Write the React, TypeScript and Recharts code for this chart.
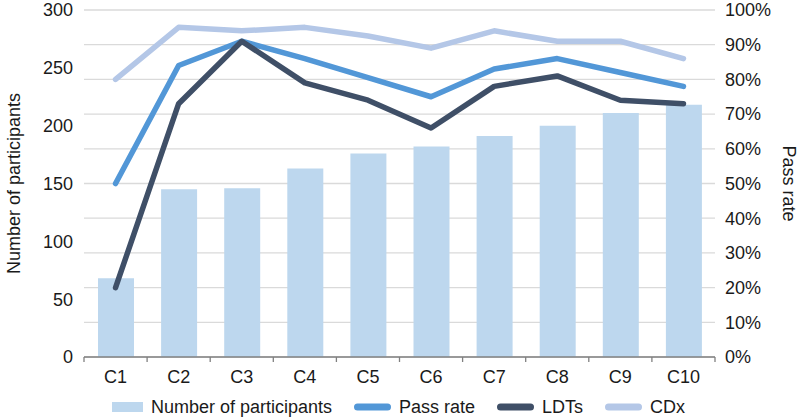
import React from 'react';
import {
  ComposedChart,
  Bar,
  Line,
  XAxis,
  YAxis,
  CartesianGrid,
  Legend,
  Label,
} from 'recharts';

const categories = ['C1', 'C2', 'C3', 'C4', 'C5', 'C6', 'C7', 'C8', 'C9', 'C10'];
const participants = [68, 145, 146, 163, 176, 182, 191, 200, 211, 218];
const passRate = [50, 84, 91, 86, 80.5, 75, 83, 86, 82, 78];
const ldts = [20, 73, 91, 79, 74, 66, 78, 81, 74, 73];
const cdx = [80, 95, 94, 95, 92.5, 89, 94, 91, 91, 86];

const leftTicks = [0, 50, 100, 150, 200, 250, 300];
const rightTicks = [0, 10, 20, 30, 40, 50, 60, 70, 80, 90, 100];

const data = categories.map((c, i) => ({
  cat: c,
  participants: participants[i],
  pass: passRate[i],
  ldts: ldts[i],
  cdx: cdx[i],
}));

const COLORS = {
  bar: '#BDD7EE',
  pass: '#5297D7',
  ldts: '#3F4F67',
  cdx: '#B4C7E7',
  text: '#1a1a1a',
  grid: '#DADADA',
  axis: '#808080',
};

const FONT = '"Liberation Sans", Arial, Helvetica, sans-serif';
const WIDTH = 800;
const HEIGHT = 417;
const LEFT_W = 84;
const RIGHT_W = 85;
const HALF_BAND = (WIDTH - LEFT_W - RIGHT_W) / categories.length / 2;

const XTick = (props: any) => {
  const { x, y, payload, index } = props;
  const axisY = y - 13;
  return (
    <g>
      <line x1={x - HALF_BAND} x2={x - HALF_BAND} y1={axisY} y2={axisY + 5} stroke={COLORS.axis} strokeWidth={1.3} />
      {index === categories.length - 1 && (
        <line x1={x + HALF_BAND} x2={x + HALF_BAND} y1={axisY} y2={axisY + 5} stroke={COLORS.axis} strokeWidth={1.3} />
      )}
      <text x={x} y={y} dy="0.71em" textAnchor="middle" fontSize={18} fill={COLORS.text} fontFamily={FONT}>
        {payload.value}
      </text>
    </g>
  );
};

const legendItems = [
  { label: 'Number of participants', color: COLORS.bar, type: 'rect' },
  { label: 'Pass rate', color: COLORS.pass, type: 'line' },
  { label: 'LDTs', color: COLORS.ldts, type: 'line' },
  { label: 'CDx', color: COLORS.cdx, type: 'line' },
];

const LegendContent = () => (
  <div
    style={{
      display: 'flex',
      justifyContent: 'center',
      alignItems: 'center',
      height: 20,
      fontFamily: FONT,
      fontSize: 18,
      color: COLORS.text,
      paddingRight: 3,
    }}
  >
    {legendItems.map((it, i) => (
      <div key={it.label} style={{ display: 'flex', alignItems: 'center', marginRight: i < legendItems.length - 1 ? 22 : 0 }}>
        <svg width={it.type === 'rect' ? 31 : 37} height={12} style={{ marginRight: 8, display: 'block' }}>
          {it.type === 'rect' ? (
            <rect x={0} y={1} width={31} height={10} fill={it.color} />
          ) : (
            <line x1={3.5} x2={33.5} y1={6} y2={6} stroke={it.color} strokeWidth={7} strokeLinecap="round" />
          )}
        </svg>
        <span style={{ lineHeight: '20px' }}>{it.label}</span>
      </div>
    ))}
  </div>
);

export default function App() {
  return (
    <div style={{ position: 'absolute', left: 0, top: 0, width: WIDTH, height: HEIGHT, background: '#fff' }}>
      <ComposedChart
        width={WIDTH}
        height={HEIGHT}
        data={data}
        margin={{ top: 10, right: 0, bottom: 0, left: 0 }}
        style={{ fontFamily: FONT }}
      >
        <CartesianGrid yAxisId="right" vertical={false} stroke={COLORS.grid} strokeWidth={1.3} />
        <XAxis
          dataKey="cat"
          height={40}
          axisLine={{ stroke: COLORS.axis, strokeWidth: 1.3 }}
          tickLine={false}
          tickSize={6}
          tickMargin={7}
          tick={<XTick />}
          interval={0}
        />
        <YAxis
          yAxisId="left"
          width={LEFT_W}
          domain={[0, 300]}
          ticks={leftTicks}
          axisLine={false}
          tickLine={false}
          tickSize={6}
          tickMargin={5}
          tick={{ fontSize: 18, fill: COLORS.text, fontFamily: FONT }}
          interval={0}
        >
          <Label
            content={(p: any) => {
              const vb = p.viewBox;
              const cx = vb.x + 14;
              const cy = vb.y + vb.height / 2;
              return (
                <text
                  x={cx}
                  y={cy}
                  transform={`rotate(-90 ${cx} ${cy})`}
                  textAnchor="middle"
                  dominantBaseline="central"
                  fontSize={18}
                  fill={COLORS.text}
                  fontFamily={FONT}
                >
                  Number of participants
                </text>
              );
            }}
          />
        </YAxis>
        <YAxis
          yAxisId="right"
          orientation="right"
          width={RIGHT_W}
          domain={[0, 100]}
          ticks={rightTicks}
          tickFormatter={(v: number) => `${v}%`}
          axisLine={false}
          tickLine={false}
          tickSize={6}
          tickMargin={4}
          tick={{ fontSize: 18, fill: COLORS.text, fontFamily: FONT }}
          interval={0}
        >
          <Label
            content={(p: any) => {
              const vb = p.viewBox;
              const cx = vb.x + 74;
              const cy = vb.y + vb.height / 2;
              return (
                <text
                  x={cx}
                  y={cy}
                  transform={`rotate(90 ${cx} ${cy})`}
                  textAnchor="middle"
                  dominantBaseline="central"
                  fontSize={18}
                  fill={COLORS.text}
                  fontFamily={FONT}
                >
                  Pass rate
                </text>
              );
            }}
          />
        </YAxis>
        <Legend verticalAlign="bottom" height={20} content={<LegendContent />} wrapperStyle={{ left: 0, width: WIDTH }} />
        <Bar yAxisId="left" dataKey="participants" name="Number of participants" fill={COLORS.bar} barSize={36} isAnimationActive={false} />
        <Line yAxisId="right" type="linear" dataKey="pass" name="Pass rate" stroke={COLORS.pass} strokeWidth={5.5} dot={false} activeDot={false} strokeLinecap="round" strokeLinejoin="round" isAnimationActive={false} />
        <Line yAxisId="right" type="linear" dataKey="ldts" name="LDTs" stroke={COLORS.ldts} strokeWidth={5.5} dot={false} activeDot={false} strokeLinecap="round" strokeLinejoin="round" isAnimationActive={false} />
        <Line yAxisId="right" type="linear" dataKey="cdx" name="CDx" stroke={COLORS.cdx} strokeWidth={5.5} dot={false} activeDot={false} strokeLinecap="round" strokeLinejoin="round" isAnimationActive={false} />
      </ComposedChart>
    </div>
  );
}
